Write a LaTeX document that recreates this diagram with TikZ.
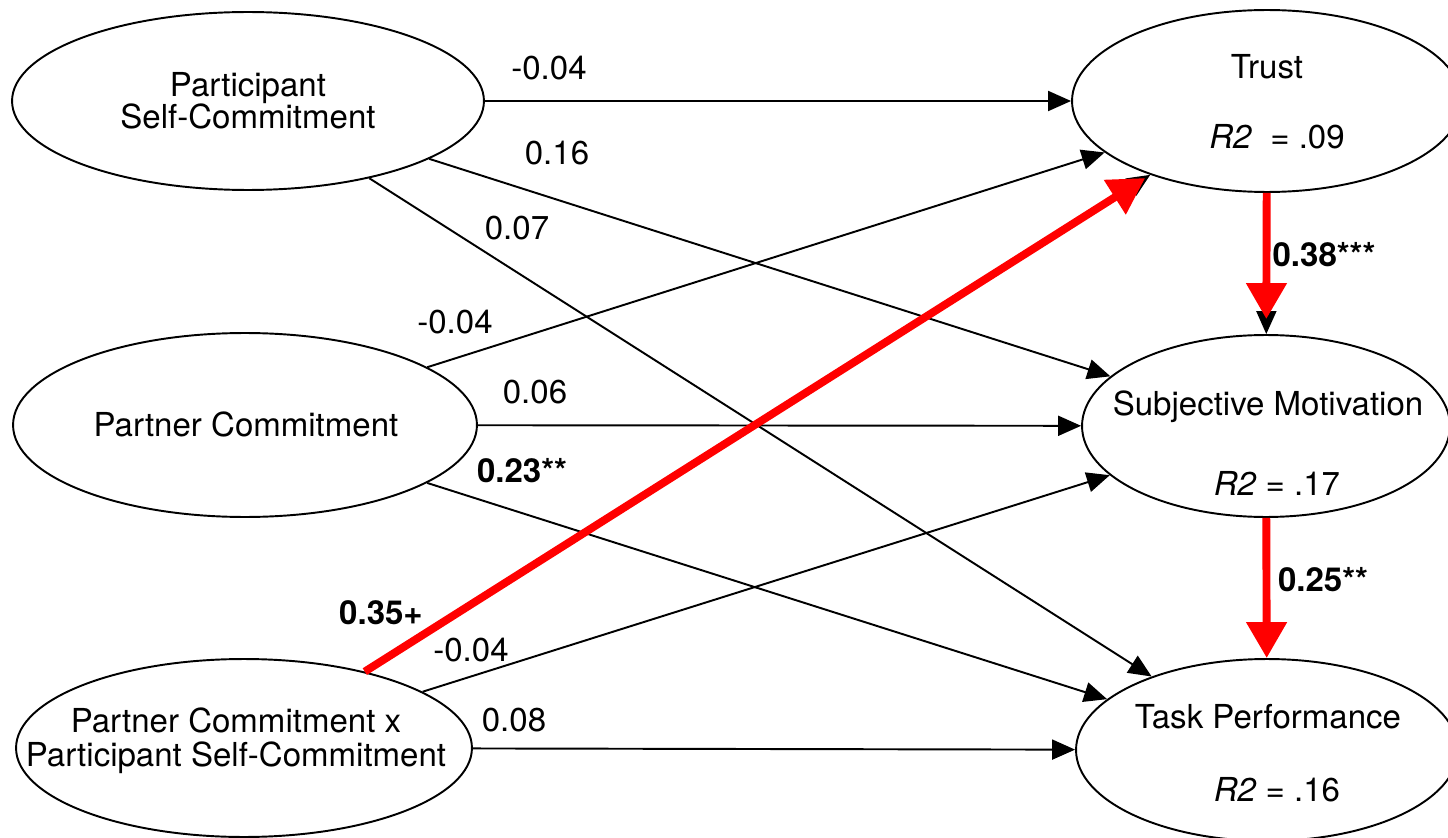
\documentclass[tikz,border=0pt]{standalone}
\usepackage{fontspec}
\setmainfont{TeX Gyre Heros}
\usetikzlibrary{arrows.meta,shapes.geometric}
\tikzset{
  factor/.style={draw,ellipse,line width=1.1pt,inner sep=0pt},
  coef/.style={->,line width=1.1pt},
  sigcoef/.style={-{Triangle[length=0.72cm,width=0.78cm]},draw=red,fill=red,line width=4.5pt},
  lab/.style={inner sep=0pt,align=center}
}

\begin{document}
\begin{tikzpicture}[x=0.02cm,y=-0.02cm,>={Triangle[length=0.46cm,width=0.4cm]},
  font=\fontsize{18.8}{18.2}\selectfont]
\clip (0,0) rectangle (1448,838);
% predictors
\node[factor,minimum width=9.44cm,minimum height=3.56cm] (psc) at (248,101) {};
\node[factor,minimum width=9.28cm,minimum height=3.68cm] (pc) at (245,425) {};
\node[factor,minimum width=9.12cm,minimum height=3.56cm] (pcx) at (244,748) {};
\node[lab] (psct) at (248,101) {Participant\\Self-Commitment};
\node[lab] (pct) at (246,424) {Partner Commitment};
\node[lab] (pcxt) at (236,741) {Partner Commitment x\\[1.2pt]Participant Self-Commitment};
% outcomes
\node[factor,minimum width=7.8cm,minimum height=3.64cm] (trust) at (1267,101) {};
\node[factor,minimum width=7.36cm,minimum height=3.64cm] (subj) at (1266,426) {};
\node[factor,minimum width=7.64cm,minimum height=3.64cm] (task) at (1267,750) {};
\node[lab] (trustt) at (1267,67) {Trust};
\node[lab] (trustr) at (1277,137) {\textit{R2}\ \ = .09};
\node[lab] (subjt) at (1268,407) {Subjective Motivation};
\node[lab] (subjr) at (1277,483) {\textit{R2} = .17};
\node[lab] (taskt) at (1268,717) {Task Performance};
\node[lab] (taskr) at (1277,790) {\textit{R2} = .16};
% paths
\path[coef]
(psc) edge (trust)
(psc) edge (subj)
(psc) edge (task)
(pc) edge (trust)
(pc) edge (subj)
(pc) edge (task)
(pcx) edge (trust)
(pcx) edge (subj)
(pcx) edge (task)
(trust) edge (subj);
\draw[sigcoef,shorten >=0.12cm] (pcx) -- (trust);
\draw[sigcoef,shorten >=0.3cm] (trust) -- (subj);
\draw[sigcoef] (subj) -- (task);
% coefficients
\node[lab] (c1) at (549,68) {-0.04};
\node[lab] (c2) at (557,153) {0.16};
\node[lab] (c3) at (517,228) {0.07};
\node[lab] (c4) at (455,322) {-0.04};
\node[lab] (c5) at (535,392) {0.06};
\node[lab] (c6) at (522,471) {\textbf{0.23**}};
\node[lab] (c7) at (381,613) {\textbf{0.35+}};
\node[lab] (c8) at (471,650) {-0.04};
\node[lab] (c9) at (514,720) {0.08};
\node[lab] (c10) at (1324,255) {\textbf{0.38***}};
\node[lab] (c11) at (1323,580) {\textbf{0.25**}};
\end{tikzpicture}
\end{document}
